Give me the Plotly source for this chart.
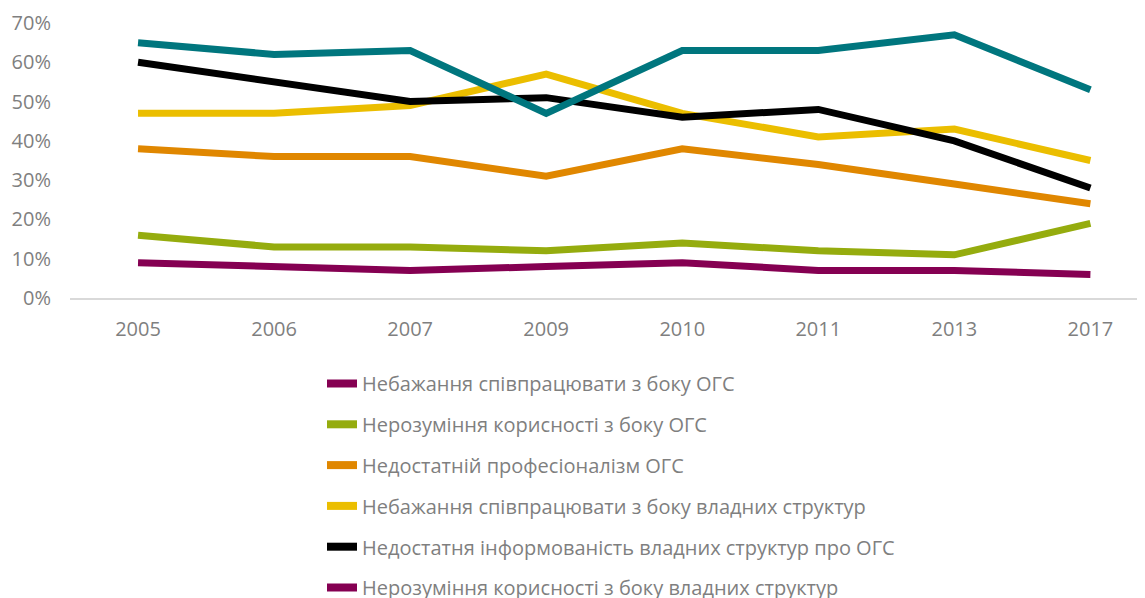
import plotly.graph_objects as go

years = ["2005", "2006", "2007", "2009", "2010", "2011", "2013", "2017"]
tick_vals = [0, 10, 20, 30, 40, 50, 60, 70]
tick_text = ["0%", "10%", "20%", "30%", "40%", "50%", "60%", "70%"]

names = [
    "Небажання співпрацювати з боку ОГС",
    "Нерозуміння корисності з боку ОГС",
    "Недостатній професіоналізм ОГС",
    "Небажання співпрацювати з боку владних структур",
    "Недостатня інформованість владних структур про ОГС",
    "Нерозуміння корисності з боку владних структур",
]
unwilling_ngo = [9, 8, 7, 8, 9, 7, 7, 6]
misunderstand_ngo = [16, 13, 13, 12, 14, 12, 11, 19]
unprofessional_ngo = [38, 36, 36, 31, 38, 34, 29, 24]
unwilling_gov = [47, 47, 49, 57, 47, 41, 43, 35]
uninformed_gov = [60, 55, 50, 51, 46, 48, 40, 28]
misunderstand_gov = [65, 62, 63, 47, 63, 63, 67, 53]

series = [unwilling_ngo, misunderstand_ngo, unprofessional_ngo,
          unwilling_gov, uninformed_gov, misunderstand_gov]
line_colors = ["#850052", "#95AC0E", "#E08700", "#EBBE00", "#000000", "#00767E"]
legend_colors = ["#850052", "#95AC0E", "#E08700", "#EBBE00", "#000000", "#850052"]

fig = go.Figure()
for i, (nm, vals) in enumerate(zip(names, series)):
    fig.add_trace(go.Scatter(
        x=years, y=vals, mode="lines", name=nm,
        line=dict(color=line_colors[i], width=7),
        showlegend=False, hoverinfo="skip",
    ))
for i, nm in enumerate(names):
    fig.add_trace(go.Scatter(
        x=[None], y=[None], mode="lines", name=nm,
        line=dict(color=legend_colors[i], width=8),
        legendgroup=f"g{i}", showlegend=True,
    ))

font_color = "#7f7f7f"
fig.update_layout(
    width=1145, height=598,
    margin=dict(l=62, r=0, t=15, b=308, autoexpand=False),
    paper_bgcolor="white", plot_bgcolor="white",
    font=dict(family="Open Sans, sans-serif", size=20, color=font_color),
    showlegend=True,
    legend=dict(
        xref="container", yref="container",
        x=314 / 1145, y=1 - 356 / 598, xanchor="left", yanchor="top",
        orientation="v", tracegroupgap=11.8,
        font=dict(size=20, color=font_color),
        bgcolor="rgba(0,0,0,0)",
    ),
    xaxis=dict(
        type="category", range=[-0.5, 7.46], automargin=False,
        showgrid=False, showline=True, linecolor="#d9d9d9", linewidth=2,
        ticks="", zeroline=False, tickfont=dict(size=20, color=font_color),
        ticklabelstandoff=12,
    ),
    yaxis=dict(
        range=[0, 70], tickvals=tick_vals, ticktext=tick_text, automargin=False,
        showgrid=False, zeroline=False, showline=False, ticks="",
        tickfont=dict(size=20, color=font_color), ticklabelstandoff=18,
    ),
)

fig.write_html("out.html")
